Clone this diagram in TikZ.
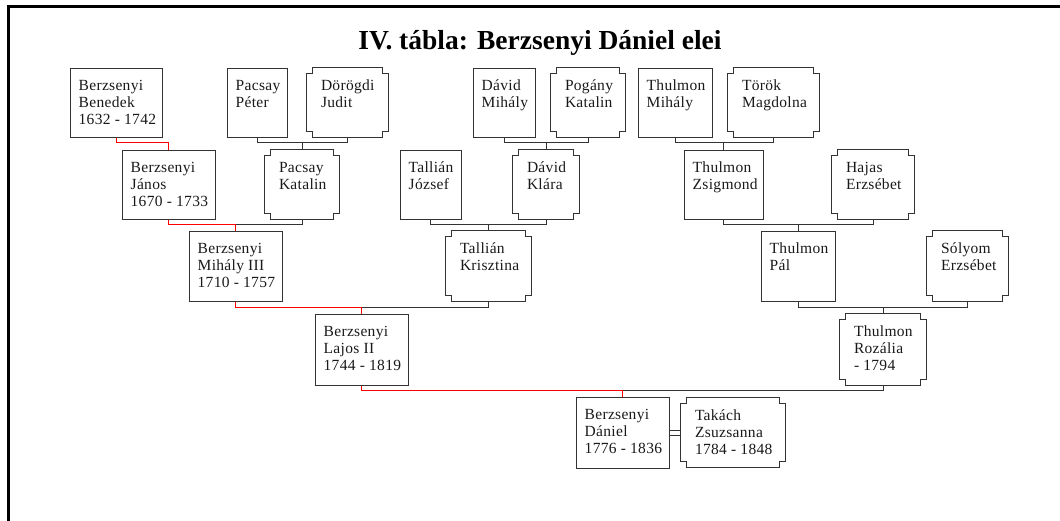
\documentclass[tikz,border=0pt]{standalone}
\usepackage{fontspec}
\setmainfont{Liberation Serif}
\newfontfamily\boxfont{Liberation Serif}[LetterSpace=2.0]
\newcommand\rperson[6]{%
  \node[rbox, minimum width={(#4-#2)*1pt}, minimum height={(#5-#3)*1pt}] (#1) at ({(#2+#4)/2},{(#3+#5)/2}) {};
  \node[txt] (#1-t) at ([shift={(9pt,-10.7pt)}]#1.north west) {\rule{0pt}{12pt}#6};}
\newcommand\nperson[6]{%
  \node[nbox, minimum width={(#4-#2)*1pt}, minimum height={(#5-#3)*1pt}] (#1) at ({(#2+#4)/2},{(#3+#5)/2}) {};
  \draw[boxline] ([xshift=6pt]#1.north west) -- ([xshift=-6pt]#1.north east) -- ++(0,6) -- ++(6,0)
     -- ([yshift=6pt]#1.south east) -- ++(-6,0) -- ++(0,6) -- ([xshift=6pt]#1.south west) -- ++(0,-6)
     -- ++(-6,0) -- ([yshift=-6pt]#1.north west) -- ++(6,0) -- cycle;
  \node[txt] (#1-t) at ([shift={(14pt,-10.7pt)}]#1.north west) {\rule{0pt}{12pt}#6};}
\newcommand\famlink[4][link]{\draw[#1] (#2.south) |- ([yshift=#4pt]#3.north) -- (#3.north);}
\begin{document}
\begin{tikzpicture}[x=1pt,y=-1pt,
  boxline/.style={draw=black!80, line width=1pt, line join=miter},
  rbox/.style={boxline, inner sep=0pt},
  nbox/.style={inner sep=0pt},
  txt/.style={font=\boxfont\fontsize{15.5}{17}\selectfont, align=left, inner sep=0pt, anchor=north west, text=black!90},
  link/.style={draw=black!80, line width=1pt},
  redlink/.style={draw=red, line width=1pt},
  frame/.style={draw=black, line width=3.5pt, line join=miter}]
\useasboundingbox (0,0) rectangle (1060,520);
\draw[frame] (8.5,530) -- (8.5,6.5) -- (1070,6.5);
\node[font=\bfseries\fontsize{27.5}{30}\selectfont, anchor=base] (title) at (540,49) {IV. tábla: Berzsenyi Dániel elei};
% row 1
\rperson{benedek}{70}{68}{162}{137}{Berzsenyi\\Benedek\\1632 - 1742}
\rperson{peter}{227}{68}{287}{137}{Pacsay\\Péter}
\nperson{judit}{307}{68}{388}{137}{Dörögdi\\Judit}
\rperson{dmihaly}{473}{68}{535}{137}{Dávid\\Mihály}
\nperson{pogany}{551}{68}{625}{137}{Pogány\\Katalin}
\rperson{tmihaly}{638}{68}{712}{137}{Thulmon\\Mihály}
\nperson{torok}{728}{68}{819}{137}{Török\\Magdolna}
% row 2
\rperson{janos}{122}{150}{215}{219}{Berzsenyi\\János\\1670 - 1733}
\nperson{katalin}{265}{150}{339}{219}{Pacsay\\Katalin}
\rperson{jozsef}{400}{150}{461}{219}{Tallián\\József}
\nperson{klara}{513}{150}{579}{219}{Dávid\\Klára}
\rperson{zsigmond}{684}{150}{763}{219}{Thulmon\\Zsigmond}
\nperson{hajas}{832}{150}{914}{219}{Hajas\\Erzsébet}
% row 3
\rperson{mihaly}{189}{231}{282}{301}{Berzsenyi\\Mihály III\\1710 - 1757}
\nperson{krisztina}{446}{231}{531}{301}{Tallián\\Krisztina}
\rperson{pal}{761}{231}{835}{301}{Thulmon\\Pál}
\nperson{solyom}{927}{231}{1008}{301}{Sólyom\\Erzsébet}
% row 4
\rperson{lajos}{315}{314}{408}{385}{Berzsenyi\\Lajos II\\1744 - 1819}
\nperson{rozalia}{840}{314}{926}{385}{Thulmon\\Rozália\\- 1794}
% row 5
\rperson{daniel}{576}{397}{669}{468}{Berzsenyi\\Dániel\\1776 - 1836}
\nperson{takach}{681}{398}{785}{467}{Takách\\Zsuzsanna\\1784 - 1848}
% black family links
\famlink{peter}{katalin}{7}
\famlink{judit}{katalin}{7}
\famlink{dmihaly}{klara}{7}
\famlink{pogany}{klara}{7}
\famlink{tmihaly}{zsigmond}{7}
\famlink{torok}{zsigmond}{7}
\famlink{katalin}{mihaly}{6}
\famlink{jozsef}{krisztina}{6}
\famlink{klara}{krisztina}{6}
\famlink{zsigmond}{pal}{6}
\famlink{hajas}{pal}{6}
\famlink{krisztina}{lajos}{6}
\famlink{pal}{rozalia}{6}
\famlink{solyom}{rozalia}{6}
\famlink{rozalia}{daniel}{6}
% red paternal line
\famlink[redlink]{benedek}{janos}{7}
\famlink[redlink]{janos}{mihaly}{6}
\famlink[redlink]{mihaly}{lajos}{6}
\famlink[redlink]{lajos}{daniel}{6}
% marriage
\draw[link] ([yshift=2.5pt]daniel.east) -- ([yshift=2.5pt]takach.west);
\draw[link] ([yshift=-2.5pt]daniel.east) -- ([yshift=-2.5pt]takach.west);
\end{tikzpicture}
\end{document}
